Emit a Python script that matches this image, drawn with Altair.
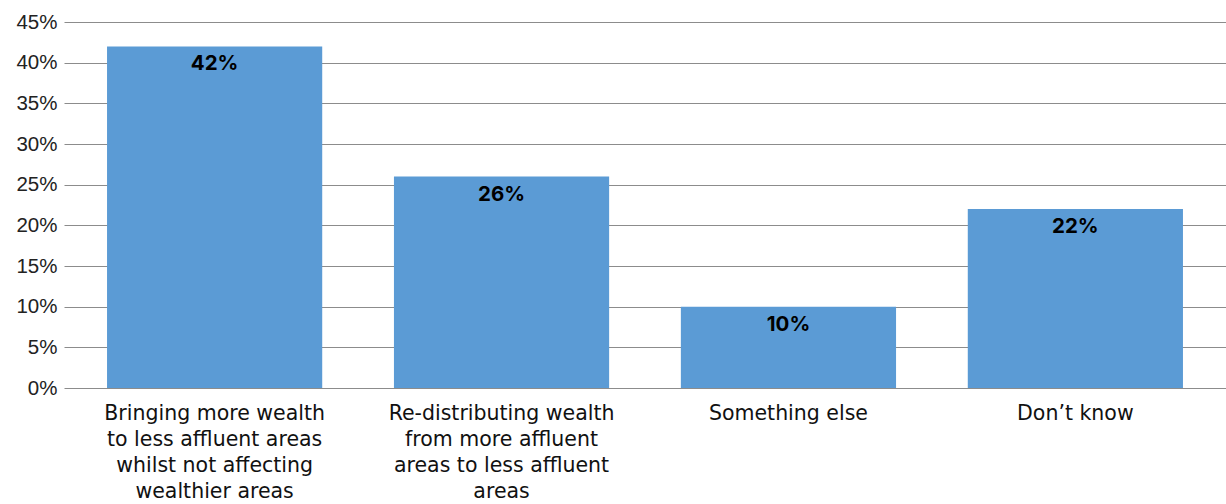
import altair as alt
import pandas as pd

categories = [
    "Bringing more wealth|to less affluent areas|whilst not affecting|wealthier areas",
    "Re-distributing wealth|from more affluent|areas to less affluent|areas",
    "Something else",
    "Don\u2019t know",
]
values = [42, 26, 10, 22]
labels = ["42%", "26%", "10%", "22%"]

df = pd.DataFrame({"cat": categories, "value": values, "label": labels})

x = alt.X(
    "cat:N",
    sort=categories,
    title=None,
    scale=alt.Scale(paddingInner=0.25, paddingOuter=0.15),
    axis=alt.Axis(
        labelAngle=0,
        labelExpr="split(datum.label, '|')",
        labelFont="DejaVu Sans",
        labelFontSize=20.5,
        labelLineHeight=26,
        labelColor="#111111",
        labelPadding=15,
        ticks=False,
        domain=False,
        grid=False,
        labelLimit=400,
    ),
)

y = alt.Y(
    "value:Q",
    title=None,
    scale=alt.Scale(domain=[0, 45]),
    axis=alt.Axis(
        values=list(range(0, 46, 5)),
        labelExpr="datum.value + '%'",
        labelFont="Liberation Sans",
        labelFontSize=20.5,
        labelColor="#222222",
        labelPadding=7,
        ticks=False,
        domain=False,
        gridColor="#8c8c8c",
        gridWidth=1,
    ),
)

base = alt.Chart(df)

bars = base.mark_bar(color="#5B9BD5").encode(x=x, y=y)

text = base.mark_text(
    font="Inter", fontWeight="bold", fontSize=20.5, color="#000000",
    baseline="middle", dy=18,
).encode(x=x, y=y, text="label:N")

chart = (
    alt.layer(bars, text)
    .properties(
        width=1162,
        height=366,
        padding={"left": 64, "top": 22, "right": 0, "bottom": 116},
        autosize=alt.AutoSizeParams(type="none"),
        background="white",
    )
    .configure_view(stroke=None)
)

chart.save("out.html", embed_options={"renderer": "svg", "actions": False})
